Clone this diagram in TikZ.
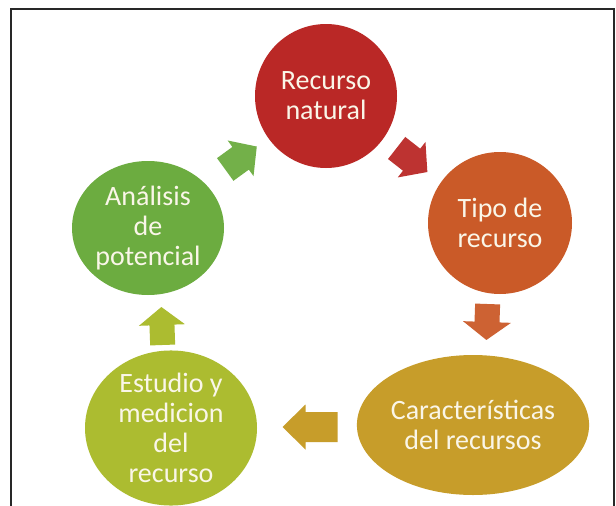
\documentclass[tikz,border=0pt]{standalone}
\usepackage{fontspec}
\setmainfont{Carlito}
\usetikzlibrary{shapes.geometric}
\definecolor{cred}{RGB}{186,40,38}
\definecolor{corange}{RGB}{202,90,40}
\definecolor{cgold}{RGB}{199,157,42}
\definecolor{cyell}{RGB}{172,188,48}
\definecolor{cgreen}{RGB}{108,172,64}
\definecolor{ctext}{RGB}{250,246,232}
\definecolor{cframe}{RGB}{40,40,40}
\newcommand\cycarrow[7]{% center, angle, length, headlen, shaft, head, colour
  \fill[#7, shift={(#1)}, rotate=#2]
    (-#3/2,-#5/2) -- (#3/2-#4,-#5/2) -- (#3/2-#4,-#6/2) -- (#3/2,0)
    -- (#3/2-#4,#6/2) -- (#3/2-#4,#5/2) -- (-#3/2,#5/2) -- cycle;}
\begin{document}
\begin{tikzpicture}[x=1pt,y=-1pt,
  stage/.style={ellipse, inner sep=0pt, text=ctext, align=center,
    font=\fontsize{28}{30}\selectfont}]
\useasboundingbox (0,0) rectangle (616,506);
\fill[white] (0,0) rectangle (616,506);
\draw[cframe, line width=2pt] (11,512) -- (11,9) -- (614,9) -- (614,512);

\node[stage, fill=cred, minimum width=142, minimum height=144] (nat) at (326,96) {Recurso\\natural};
\node[stage, fill=corange, minimum width=144, minimum height=142] (tipo) at (500,223) {Tipo de\\recurso};
\node[stage, fill=cgold, minimum width=229, minimum height=140] (car) at (473,425) {Características\\del recursos};
\node[stage, fill=cyell, minimum width=172, minimum height=145] (est) at (171,428) {Estudio y\\medicion\\del\\recurso};
\node[stage, fill=cgreen, minimum width=152, minimum height=134] (ana) at (148,228) {Análisis\\de\\potencial};

\cycarrow{412,160}{-38}{39}{20}{28}{45}{cred!95!white}
\cycarrow{487,322}{-92}{36}{18}{25}{48}{corange!95!white}
\cycarrow{310,427}{180}{55}{23}{30}{45}{cgold}
\cycarrow{162,326}{92}{38}{18}{25}{46}{cyell}
\cycarrow{241,158}{36}{39}{20}{28}{44}{cgreen!95!white}
\end{tikzpicture}
\end{document}
